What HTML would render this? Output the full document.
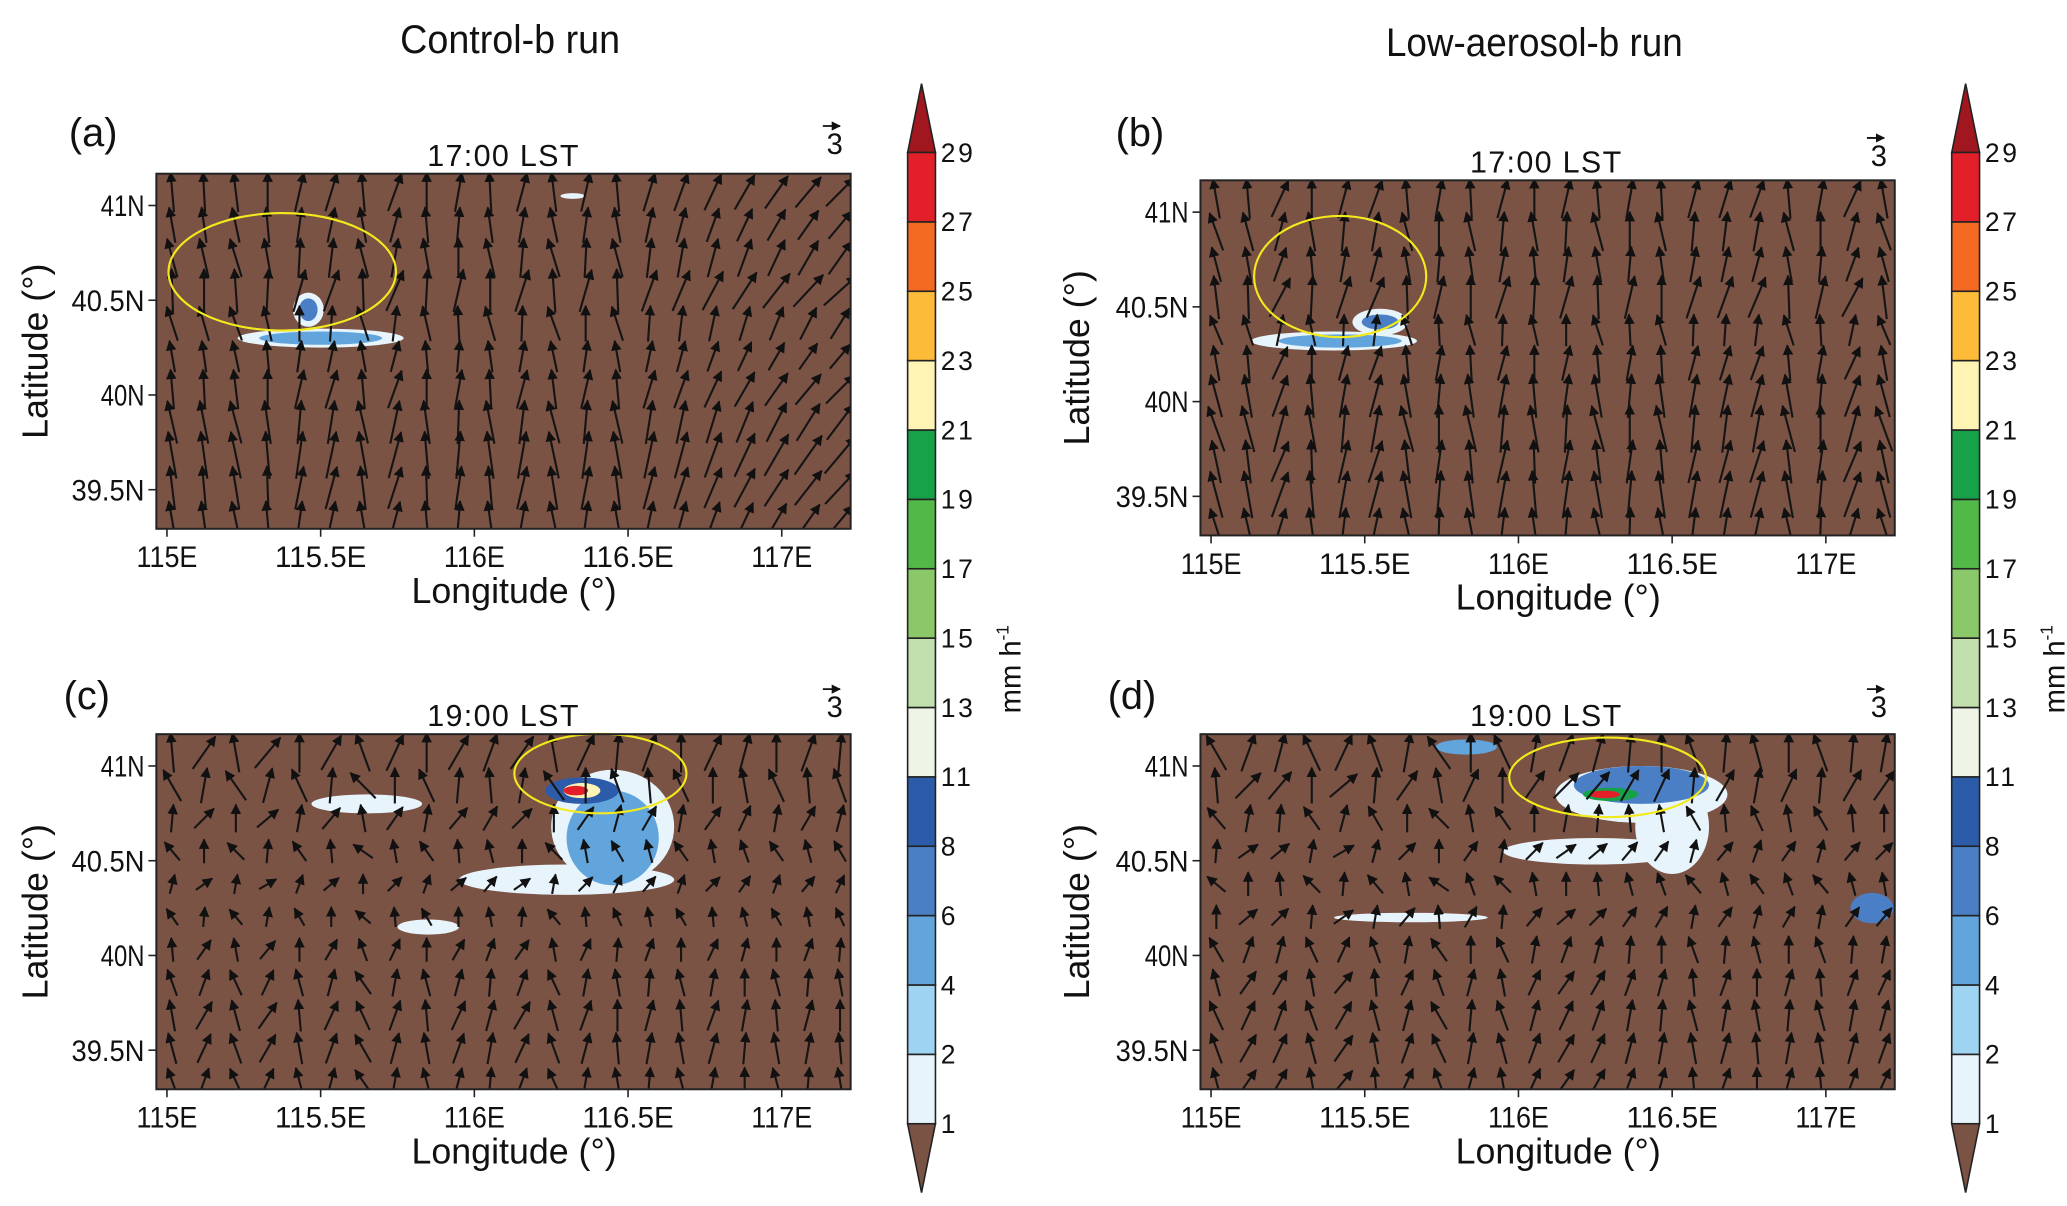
<!DOCTYPE html>
<html><head><meta charset="utf-8">
<style>
html,body{margin:0;padding:0;background:#fff;}
svg{display:block;}
text{font-family:"Liberation Sans",sans-serif;fill:#111;}
</style></head>
<body>
<svg id="fig" width="2067" height="1206" viewBox="0 0 1560 910" xmlns="http://www.w3.org/2000/svg">
<text x="385" y="40" font-size="30" text-anchor="middle" textLength="166" lengthAdjust="spacingAndGlyphs">Control-b run</text>
<text x="1158" y="42" font-size="30" text-anchor="middle" textLength="224" lengthAdjust="spacingAndGlyphs">Low-aerosol-b run</text>
<g id="panels"></g>
<g id="bars"></g>
</svg>
<script>
// ---- data ----
const levels = [1,2,4,6,8,11,13,15,17,19,21,23,25,27,29];
const levelColors = ['#e8f4fb','#9fd3f2','#62a5dc','#4a7fc6','#2c5ca9','#eef5e6','#c2e0ad','#8bc86a','#52b948','#17a24a','#fff4b4','#fdbb3a','#f46a22','#e3202a'];
const xTickLabels = ['115E','115.5E','116E','116.5E','117E'];
const xTickValues = [115,115.5,116,116.5,117];
const yTickLabels = ['41N','40.5N','40N','39.5N'];
const yTickValues = [41,40.5,40,39.5];
const panelLetters = ['(a)','(b)','(c)','(d)'];
const panelTimes = ['17:00  LST','17:00  LST','19:00  LST','19:00  LST'];
// wind direction per grid column (deg from north, +east) for each panel
const windA = [-10,-8,-12,-5,8,12,-10,15,-5,5,-8,10,-12,8,-10,12,15,20,25,30,35,40];
const windB = [-15,-10,20,-5,10,15,-10,5,-8,10,-5,8,-10,5,-8,10,12,15,-10,5,20,-15];
const windC = [-15,25,-20,30,-10,20,-30,15,-10,20,10,25,-20,15,-5,10,-10,15,5,-10,10,-5];
const windD = [-20,30,25,-15,35,-10,20,-25,10,-15,20,30,25,15,10,-10,15,-5,10,-10,15,20];
// per-row direction offset (deg)
const rowTurnA = [5,0,-5,8,-8,0,5,-3,0,3,0];
const rowTurnB = [5,-5,0,8,-8,5,0,-5,3,0,-3];
const rowTurnC = [10,-15,20,-25,30,-20,10,-5,5,0,-5];
const rowTurnD = [-10,15,-20,25,-30,20,-10,5,-5,0,5];
// wind speed per grid row
const speedA = [1,0.9,1,1.1,0.9,0.8,1,1.1,1.2,1.1,1];
const speedB = [1,1,0.9,1.1,0.8,0.9,1.1,1.2,1.1,1.2,1];
const speedC = [1,0.9,0.7,0.6,0.5,0.5,0.6,0.7,0.8,0.8,0.7];
const speedD = [1,0.9,0.7,0.6,0.6,0.6,0.7,0.7,0.8,0.8,0.7];
// rain cells: [lon, lat, radiusLon, radiusLat, level index]
const rainA = [[115.5,40.3,0.27,0.05,0],[115.5,40.3,0.2,0.035,2],[115.46,40.45,0.05,0.09,0],[115.46,40.45,0.03,0.06,3],[116.32,41.05,0.04,0.015,0]];
const rainB = [[115.4,40.32,0.27,0.05,0],[115.42,40.32,0.2,0.035,2],[115.55,40.42,0.09,0.07,0],[115.55,40.42,0.06,0.04,3]];
const rainC = [[116.45,40.68,0.2,0.3,0],[116.3,40.4,0.35,0.08,0],[116.45,40.62,0.15,0.25,2],[116.35,40.87,0.12,0.07,4],[116.35,40.87,0.06,0.04,10],[116.33,40.87,0.04,0.025,13],[115.65,40.8,0.18,0.05,0],[115.85,40.15,0.1,0.04,0]];
const rainD = [[116.4,40.85,0.28,0.15,0],[116.25,40.55,0.3,0.07,0],[116.5,40.68,0.12,0.25,0],[116.4,40.9,0.22,0.1,3],[116.3,40.85,0.09,0.035,9],[116.28,40.85,0.05,0.02,13],[115.83,41.1,0.1,0.04,2],[115.65,40.2,0.25,0.025,0],[117.15,40.25,0.07,0.08,3]];
const ellipses = [[115.375,40.65,0.37,0.31],[115.42,40.66,0.28,0.32],[116.41,40.96,0.28,0.21],[116.29,40.94,0.32,0.21]];

const panels = [
 {x0:118,x1:642,y0:131,y1:399,lon0:114.965,lonPx:232,lat41:155,latPx:143,lx:52,ly:110,tx:380,ty:125,wind:windA,turn:rowTurnA,speed:speedA,rain:rainA,ylabx:36},
 {x0:906,x1:1430,y0:136,y1:404,lon0:114.965,lonPx:232,lat41:160,latPx:143,lx:842,ly:110,tx:1167,ty:130,wind:windB,turn:rowTurnB,speed:speedB,rain:rainB,ylabx:822},
 {x0:118,x1:642,y0:554,y1:822,lon0:114.965,lonPx:232,lat41:578,latPx:143,lx:48,ly:535,tx:380,ty:548,wind:windC,turn:rowTurnC,speed:speedC,rain:rainC,ylabx:36},
 {x0:906,x1:1430,y0:554,y1:822,lon0:114.965,lonPx:232,lat41:578,latPx:143,lx:836,ly:535,tx:1167,ty:548,wind:windD,turn:rowTurnD,speed:speedD,rain:rainD,ylabx:822}
];
const NS='http://www.w3.org/2000/svg';
function mk(tag,attrs,parent){const e=document.createElementNS(NS,tag);for(const k in attrs)e.setAttribute(k,attrs[k]);parent.appendChild(e);return e;}
const root=document.getElementById('panels');
const defs=mk('defs',{},document.getElementById('fig'));
const mkr=mk('marker',{id:'ah',viewBox:'0 0 10 10',refX:'9',refY:'5',markerWidth:'5',markerHeight:'5',orient:'auto'},defs);
mk('path',{d:'M0,0 L10,5 L0,10 z',fill:'#111'},mkr);

panels.forEach((p,i)=>{
  const X=lon=>p.x0+8+(lon-115)*p.lonPx;
  const Y=lat=>p.lat41+(41-lat)*p.latPx;
  const g=mk('g',{},root);
  
  
  const cp=mk('clipPath',{id:'cp'+i},defs);
  mk('rect',{x:p.x0,y:p.y0,width:p.x1-p.x0,height:p.y1-p.y0},cp);
  const bg=mk('rect',{x:p.x0,y:p.y0,width:p.x1-p.x0,height:p.y1-p.y0,fill:'#7b5345'},g);
  
  
  const inner=mk('g',{'clip-path':'url(#cp'+i+')'},g);
  p.rain.forEach(r=>{
    const e=mk('ellipse',{cx:X(r[0]),cy:Y(r[1]),rx:r[2]*p.lonPx,ry:r[3]*p.latPx,fill:levelColors[r[4]]},inner);
    
    
  });
  const nc=p.wind.length, nr=p.speed.length;
  for(let r=0;r<nr;r++)for(let c=0;c<nc;c++){
    const cx=p.x0+12+c*(p.x1-p.x0-20)/(nc-1);
    const cy=p.y0+14+r*(p.y1-p.y0-20)/(nr-1);
    const a=(p.wind[c]+p.turn[r])*Math.PI/180, L=30*p.speed[r];
    const dx=Math.sin(a)*L/2, dy=-Math.cos(a)*L/2;
    const ln=mk('line',{x1:cx-dx,y1:cy-dy,x2:cx+dx,y2:cy+dy,stroke:'#151515','stroke-width':1.6,'marker-end':'url(#ah)'},inner);
    
    
  }
  const el=ellipses[i];
  const ell=mk('ellipse',{cx:X(el[0]),cy:Y(el[1]),rx:el[2]*p.lonPx,ry:el[3]*p.latPx,fill:'none',stroke:'#f2ea1c','stroke-width':1.6},g);
  
  
  const fr=mk('rect',{x:p.x0,y:p.y0,width:p.x1-p.x0,height:p.y1-p.y0,fill:'none',stroke:'#222','stroke-width':1.5},g);
  
  
  xTickValues.forEach((v,k)=>{
    mk('line',{x1:X(v),x2:X(v),y1:p.y1,y2:p.y1+6,stroke:'#222','stroke-width':1.2},g);
    const t=mk('text',{x:X(v),y:p.y1+29,'font-size':22,'text-anchor':'middle',textLength:xTickLabels[k].length*11.5,lengthAdjust:'spacingAndGlyphs'},g);
    t.textContent=xTickLabels[k];
    
    
  });
  yTickValues.forEach((v,k)=>{
    mk('line',{x1:p.x0-6,x2:p.x0,y1:Y(v),y2:Y(v),stroke:'#222','stroke-width':1.2},g);
    const t=mk('text',{x:p.x0-9,y:Y(v)+8,'font-size':22,'text-anchor':'end',textLength:yTickLabels[k].length*11,lengthAdjust:'spacingAndGlyphs'},g);
    t.textContent=yTickLabels[k];
    
    
  });
  const xl=mk('text',{x:(p.x0+p.x1)/2+8,y:p.y1+56,'font-size':27,'text-anchor':'middle'},g);
  xl.textContent='Longitude (°)';
  
  
  const yl=mk('text',{x:0,y:0,'font-size':27,'text-anchor':'middle',transform:`translate(${p.ylabx},${(p.y0+p.y1)/2}) rotate(-90)`},g);
  yl.textContent='Latitude (°)';
  
  
  const lt=mk('text',{x:p.lx,y:p.ly,'font-size':30,'font-family':'Liberation Serif, serif'},g);
  lt.textContent=panelLetters[i];
  
  
  const tt=mk('text',{x:p.tx,y:p.ty,'font-size':23,'text-anchor':'middle','letter-spacing':'1'},g);
  tt.textContent=panelTimes[i];
  
  
  const rx=p.x1-12, ry=p.y0-(i<2?(i==0?28:24):26);
  mk('line',{x1:rx-9,x2:rx+4,y1:ry-8,y2:ry-8,stroke:'#111','stroke-width':1.4,'marker-end':'url(#ah)'},g);
  const rt=mk('text',{x:rx,y:ry+13,'font-size':22,'text-anchor':'middle'},g);
  rt.textContent='3';
  
  
});

const bars=document.getElementById('bars');
[685,1473].forEach((bx,j)=>{
  const g=mk('g',{},bars);
  
  
  const w=21, top=115, bot=848, h=(bot-top)/levelColors.length;
  mk('path',{d:`M${bx},${top} L${bx+w/2},63 L${bx+w},${top} Z`,fill:'#a0171f',stroke:'#222','stroke-width':1.2},g);
  mk('path',{d:`M${bx},${bot} L${bx+w/2},900 L${bx+w},${bot} Z`,fill:'#7b5345',stroke:'#222','stroke-width':1.2},g);
  for(let k=0;k<levelColors.length;k++){
    const y=bot-(k+1)*h;
    const r=mk('rect',{x:bx,y:y,width:w,height:h,fill:levelColors[k],stroke:'#222','stroke-width':1.2},g);
    
    
  }
  levels.forEach((v,k)=>{
    const t=mk('text',{x:bx+w+4,y:bot-k*h+7,'font-size':20,'letter-spacing':'2'},g);
    t.textContent=v;
    
    
  });
  const u=mk('text',{x:0,y:0,'font-size':22,'text-anchor':'middle',transform:`translate(${bx+85},505) rotate(-90)`},g);
  u.innerHTML='mm h<tspan dy="-9" font-size="13">-1</tspan>';
  
  
});
</script>
</body></html>
